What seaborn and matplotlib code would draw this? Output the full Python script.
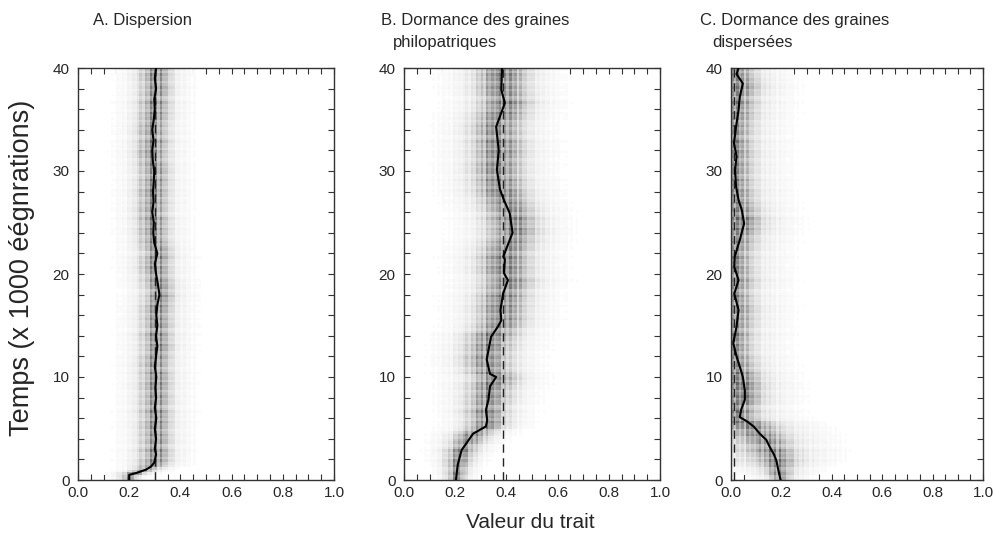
import numpy as np
import pandas as pd
import matplotlib
matplotlib.use("Agg")
import matplotlib.pyplot as plt
import seaborn as sns
from matplotlib.colors import LinearSegmentedColormap
from matplotlib.ticker import MultipleLocator

sns.set_theme(style="ticks")
plt.rcParams["font.family"] = ["Liberation Sans", "DejaVu Sans"]

# ---------------- data ----------------
titles = [["A. Dispersion"],
          ["B. Dormance des graines", "philopatriques"],
          ["C. Dormance des graines", "dispersées"]]
x_ticks = [0.0, 0.2, 0.4, 0.6, 0.8, 1.0]
x_tick_labels = ["0.0", "0.2", "0.4", "0.6", "0.8", "1.0"]
y_ticks = [0, 10, 20, 30, 40]
y_tick_labels = ["0", "10", "20", "30", "40"]

# mean trait trajectory (time in 1000 generations)
time_A = [0, 0.5, 0.7, 1.0, 1.3, 1.7, 2.5, 3, 4, 5, 6, 7, 8, 9, 10, 11, 12, 13, 14, 15,
          16, 17, 18, 19, 20, 21, 22, 23, 24, 25, 26, 27, 28, 29, 30, 31, 32, 33, 34,
          35, 36, 37, 38, 39, 40]
mean_A = [0.20, 0.20, 0.23, 0.265, 0.285, 0.298, 0.305, 0.30, 0.305, 0.30, 0.306, 0.30,
          0.305, 0.302, 0.306, 0.30, 0.305, 0.31, 0.305, 0.31, 0.306, 0.31, 0.318, 0.312,
          0.305, 0.30, 0.31, 0.298, 0.294, 0.296, 0.29, 0.295, 0.293, 0.296, 0.298, 0.292,
          0.29, 0.295, 0.29, 0.296, 0.30, 0.298, 0.305, 0.30, 0.305]
time_B = [0, 1.5, 2.9, 4.5, 5.2, 5.8, 6.8, 7.8, 9.1, 10, 10.3, 11.7, 12.6, 13.9, 14.9,
          15.5, 16.5, 18.1, 19.4, 20.1, 21.4, 21.7, 24, 25.9, 27.2, 28.2, 30.1, 32, 34.3,
          36.6, 37.9, 40]
mean_B = [0.203, 0.21, 0.225, 0.27, 0.32, 0.325, 0.32, 0.33, 0.336, 0.36, 0.336, 0.323,
          0.33, 0.34, 0.367, 0.38, 0.377, 0.387, 0.406, 0.39, 0.394, 0.388, 0.424, 0.413,
          0.39, 0.375, 0.363, 0.37, 0.36, 0.394, 0.38, 0.383]
time_C = [0, 0.7, 1.9, 2.5, 3.2, 3.9, 4.5, 5.2, 5.7, 6.1, 6.8, 7.8, 8.7, 10, 11, 12,
          13.3, 14.9, 16.5, 18.1, 19.4, 20.7, 21.7, 23.3, 24.9, 26.2, 27.2, 28.5, 30.1,
          31.4, 32.7, 34.3, 35.9, 37.2, 38.5, 39.4, 40]
mean_C = [0.197, 0.19, 0.18, 0.17, 0.154, 0.14, 0.114, 0.09, 0.063, 0.035, 0.04, 0.055,
          0.055, 0.047, 0.035, 0.022, 0.009, 0.022, 0.03, 0.013, 0.03, 0.013, 0.015,
          0.035, 0.052, 0.043, 0.03, 0.02, 0.016, 0.022, 0.012, 0.02, 0.03, 0.035, 0.047,
          0.022, 0.03]

# reference value (dashed line) per panel
dash_x = [0.30, 0.385, 0.01]

# spread of the trait distribution around the mean (core width)
spread_t_A = [0, 1, 2, 40]
spread_A = [0.015, 0.03, 0.035, 0.035]
spread_t_B = [0, 2, 5, 10, 20, 40]
spread_B = [0.02, 0.03, 0.045, 0.055, 0.06, 0.06]
spread_t_C = [0, 2, 5, 7, 40]
spread_C = [0.02, 0.05, 0.06, 0.045, 0.045]
halo_weight = [0.25, 0.25, 0.3]
halo_scale = [2.4, 2.2, 2.8]
reflect_at_zero = [False, False, True]

# textures of the density image (vertical stripes, row grain)
stripe = [1.0, 0.7, 1.2, 0.8, 1.1, 0.6, 1.25, 0.85, 1.05, 0.75, 0.95, 1.15, 0.65]
grain = [1.0, 0.85, 1.1, 0.9, 0.75, 1.05, 0.95, 1.15, 0.8, 1.0, 0.9, 1.2, 0.85, 0.7, 1.05]

# ------------------------------------------------------------
x_edges = np.linspace(0, 1, 101)
t_edges = np.linspace(0, 40, 161)
xc = (x_edges[:-1] + x_edges[1:]) / 2
tc = (t_edges[:-1] + t_edges[1:]) / 2
col_tex = np.resize(stripe, len(xc))
row_tex = np.resize(grain, len(tc))


def density_frame(time, mean, st, sd, hw, hs, reflect):
    mu = np.interp(tc, time, mean)[:, None]
    s = np.interp(tc, st, sd)[:, None]
    X = xc[None, :]

    def g(c):
        d = X - c
        return np.exp(-d ** 2 / (2 * s ** 2)) + hw * np.exp(-d ** 2 / (2 * (hs * s) ** 2))

    I = g(mu)
    if reflect:
        I = I + g(-mu)
    I = I / I.max(axis=1, keepdims=True)
    I = I * col_tex[None, :] * row_tex[:, None]
    TT, XX = np.meshgrid(tc, xc, indexing="ij")
    return pd.DataFrame({"x": XX.ravel(), "t": TT.ravel(), "w": I.ravel()})


panels = [
    (time_A, mean_A, spread_t_A, spread_A),
    (time_B, mean_B, spread_t_B, spread_B),
    (time_C, mean_C, spread_t_C, spread_C),
]

cmap = LinearSegmentedColormap.from_list("g", ["#ffffff", "#4a4a4a"])

fig = plt.figure(figsize=(9.95, 5.43), dpi=100)
lefts = [78, 404, 731]
widths = [256, 256, 252]
title_x = [93, 381, 700]
W, H = 995, 543
for i, (tm, mn, st, sd) in enumerate(panels):
    ax = fig.add_axes([lefts[i] / W, (H - 480) / H, widths[i] / W, 412 / H])
    df = density_frame(tm, mn, st, sd, halo_weight[i], halo_scale[i], reflect_at_zero[i])
    sns.histplot(data=df, x="x", y="t", weights="w", bins=[x_edges, t_edges],
                 cmap=cmap, vmin=0, vmax=1.6, thresh=0.03, ax=ax)
    ax.axvline(dash_x[i], color="#222222", lw=1.0, ls=(0, (6, 4)), zorder=3)
    sns.lineplot(x=mn, y=tm, sort=False, estimator=None, color="black", lw=1.5,
                 ax=ax, zorder=4)
    ax.set_xlim(0, 1)
    ax.set_ylim(0, 40)
    ax.set_xticks(x_ticks)
    ax.set_xticklabels(x_tick_labels)
    ax.set_yticks(y_ticks)
    ax.set_yticklabels(y_tick_labels)
    ax.xaxis.set_minor_locator(MultipleLocator(0.05))
    ax.yaxis.set_minor_locator(MultipleLocator(2))
    ax.tick_params(which="both", direction="in", top=True, right=True, length=4,
                   width=0.8, color="#333333", labelsize=11)
    ax.tick_params(axis="y", pad=6)
    ax.tick_params(axis="x", pad=4)
    ax.set_xlabel("")
    ax.set_ylabel("")
    for sp in ax.spines.values():
        sp.set_visible(True)
        sp.set_color("#333333")
        sp.set_linewidth(1.0)
    for j, line in enumerate(titles[i]):
        fig.text((title_x[i] + (12 if j else 0)) / W, 1 - (20 + 22 * j) / H, line,
                 ha="left", va="center", fontsize=12,
                 family=["Liberation Sans Narrow", "Liberation Sans", "DejaVu Sans"])

fig.text(22 / W, 1 - 268 / H, "Temps (x 1000 éégnrations)", rotation=90,
         ha="center", va="center", fontsize=19.5)
fig.text(530 / W, 1 - 522 / H, "Valeur du trait", ha="center", va="center", fontsize=15)

fig.savefig("out.png", dpi=100)
